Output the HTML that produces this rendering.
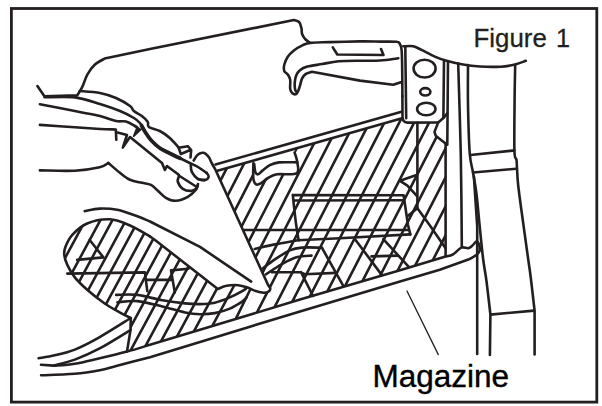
<!DOCTYPE html><html><head><meta charset="utf-8"><style>html,body{margin:0;padding:0;background:#fff}svg{display:block}</style></head><body><svg width="602" height="406" viewBox="0 0 602 406" fill="none" stroke="#231f20" stroke-linecap="round" stroke-linejoin="round">
<defs><clipPath id="hc"><path clip-rule="evenodd" d="M217.5,170.3 L402.0,118.0 L402.5,120.0 L407.4,122.6 L438.2,122.4 L434.5,131.9 L435.7,135.7 L445.6,144.0 L445.6,255.7 L400.0,270.2 L300.0,299.6 L241.5,317.0 L254.8,291.0 L255.7,291.0 L257.4,291.5 L259.1,292.0 L260.8,292.4 L262.4,292.7 L263.8,292.8 L265.0,292.8 L266.1,292.6 L267.0,292.4 L267.8,292.0 L268.5,291.6 L269.1,291.1 L269.6,290.5 L270.0,289.9 L270.2,289.2 L270.3,288.5 L270.1,287.8 L269.6,287.0 L269.0,286.2 L268.5,285.5 L268.1,285.0 L215.0,168.8 Z M253.4,163.3 L253.4,165.6 L253.3,168.9 L253.2,172.6 L253.2,176.2 L253.4,178.9 L253.7,180.8 L254.2,182.1 L254.8,183.2 L255.4,183.9 L256.1,184.4 L256.9,184.7 L257.7,184.7 L258.6,184.4 L259.6,184.0 L260.7,183.4 L262.0,182.6 L263.3,181.5 L264.8,180.2 L266.4,179.0 L268.0,178.0 L269.6,177.1 L271.1,176.3 L272.7,175.5 L274.7,174.8 L277.2,174.3 L280.7,174.1 L285.1,174.2 L289.6,174.4 L293.7,174.2 L296.5,173.4 L297.9,171.8 L298.3,169.7 L298.1,167.2 L297.7,164.7 L297.3,162.4 L296.9,160.2 L296.3,157.9 L295.7,155.7 L295.0,153.8 L294.6,152.5 L294.6,148.9 L253.4,160.6 Z"/></clipPath>
<clipPath id="hb"><path d="M235.9,318.6 L200.0,329.8 L150.0,344.8 L127.0,351.6 L130.5,330.0 L130.8,318.0 L130.8,318.0 L129.3,317.3 L127.3,316.3 L124.9,315.1 L122.3,313.7 L119.6,312.3 L116.9,310.8 L114.0,309.2 L111.0,307.5 L107.9,305.6 L104.7,303.5 L101.3,301.1 L97.6,298.3 L94.0,295.4 L90.4,292.5 L87.2,289.8 L84.3,287.2 L81.6,284.8 L79.2,282.3 L76.9,279.9 L74.8,277.4 L72.9,274.9 L71.2,272.3 L69.7,269.7 L68.4,267.2 L67.3,264.9 L66.3,262.7 L65.6,260.7 L65.0,258.7 L64.6,256.8 L64.3,255.0 L64.1,253.4 L64.1,251.9 L64.3,250.6 L64.7,249.0 L65.3,247.2 L66.2,245.0 L67.3,242.5 L68.6,239.9 L70.3,237.3 L72.3,234.8 L74.7,232.4 L77.3,229.9 L80.3,227.5 L83.6,225.3 L87.2,223.5 L91.2,222.0 L95.7,220.8 L100.5,219.9 L105.2,219.4 L109.6,219.3 L113.7,219.8 L117.8,220.7 L121.7,222.0 L125.6,223.6 L129.6,225.3 L134.0,227.4 L138.7,229.9 L143.3,232.6 L147.2,234.9 L150.0,236.5 L155.0,240.0 L217.8,289.0 L217.8,289.0 L219.0,288.5 L220.5,287.8 L222.4,287.0 L224.5,286.3 L226.6,285.8 L228.8,285.5 L231.2,285.2 L233.7,285.1 L236.1,285.1 L238.3,285.2 L240.3,285.5 L242.3,285.9 L244.1,286.4 L245.9,287.0 L247.6,287.6 L249.3,288.2 L250.9,289.0 Z"/></clipPath></defs>
<g clip-path="url(#hc)"><path d="M187.4,100 L43.4,380 M202.3,100 L58.3,380 M217.2,100 L73.2,380 M232.1,100 L88.1,380 M247.0,100 L103.0,380 M261.9,100 L117.9,380 M276.8,100 L132.8,380 M291.7,100 L147.7,380 M306.6,100 L162.6,380 M321.5,100 L177.5,380 M336.4,100 L192.4,380 M351.3,100 L207.3,380 M366.2,100 L222.2,380 M381.1,100 L237.1,380 M396.0,100 L252.0,380 M410.9,100 L266.9,380 M425.8,100 L281.8,380 M440.7,100 L296.7,380 M455.6,100 L311.6,380 M470.5,100 L326.5,380 M485.4,100 L341.4,380 M500.3,100 L356.3,380 M515.2,100 L371.2,380 M530.1,100 L386.1,380 M545.0,100 L401.0,380" stroke-width="2.6"/></g>
<g clip-path="url(#hb)"><path d="M70.4,200 L-26.9,380 M83.5,200 L-13.8,380 M96.4,200 L-0.9,380 M111.3,200 L14.0,380 M123.3,200 L26.0,380 M136.9,200 L39.6,380 M149.4,200 L52.1,380 M162.3,200 L65.0,380 M174.3,200 L77.0,380 M186.7,200 L89.4,380 M199.3,200 L102.0,380 M211.9,200 L114.6,380 M224.4,200 L127.1,380 M237.4,200 L140.1,380 M250.8,200 L153.5,380 M264.9,200 L167.6,380 M280.4,200 L183.1,380" stroke-width="2.6"/></g>
<path d="M249.9,290.2 L235.9,318.6" stroke-width="2.6" />
<rect x="11.4" y="8.5" width="585.4" height="393.6" stroke-width="2.8" stroke-linejoin="miter"/>
<path d="M37.4,86 L44.4,96.3 L77.3,95.4  C78.1,94.0 80.5,90.6 82.2,87.2 C83.9,83.8 85.1,78.5 87.2,74.8 C89.3,71.1 91.8,67.5 94.7,64.8 C97.6,62.1 103.0,59.6 104.7,58.6 L150,49.1 L293.9,20  C294.8,20.3 297.9,20.7 299.1,22.0 C300.4,23.3 300.9,26.0 301.4,28.0 C301.9,30.0 301.5,32.2 302.1,34.0 C302.7,35.8 303.9,37.6 305.1,39.0 C306.4,40.4 308.9,42.0 309.6,42.6" stroke-width="2.6" />
<path d="M402.4,96.5 C402.4,92.1 402.3,77.8 402.2,70.0 C402.1,62.2 402.0,54.2 401.6,49.9 C401.2,45.6 400.7,45.5 399.9,44.1 C399.1,42.8 399.9,42.2 396.6,41.8 C393.3,41.4 386.1,41.7 380.0,41.6 C373.9,41.5 368.4,41.3 360.0,41.4 C351.6,41.5 338.1,41.9 329.8,42.1 C321.5,42.4 314.9,42.4 310.4,42.9 C305.9,43.4 305.6,43.9 302.9,45.1 C300.1,46.4 296.4,48.4 293.9,50.4 C291.3,52.4 289.2,54.6 287.6,57.0 C286.0,59.4 284.8,62.7 284.2,65.0 C283.6,67.3 283.6,69.4 284.2,71.0 C284.8,72.6 286.9,73.2 287.9,74.7 C288.9,76.2 289.8,77.5 290.2,79.9 C290.6,82.3 289.8,86.7 290.2,88.9 C290.6,91.1 291.4,92.4 292.4,93.3 C293.4,94.2 295.2,94.6 296.2,94.1 C297.2,93.6 297.8,91.8 298.4,90.4 C299.0,89.0 299.3,87.9 299.9,85.9 C300.5,83.9 301.1,80.4 302.1,78.4 C303.1,76.4 304.3,75.0 305.9,73.9 C307.5,72.8 310.9,72.1 311.9,71.7 L360,80.6 L393.3,84.7 L400.8,82.3" stroke-width="2.6" />
<path d="M332.8,47.4 L337.3,54.5 L383.5,55 L381,49" stroke-width="2.6" />
<path d="M398.3,58.2 C395.2,58.6 386.4,60.1 380.0,60.5 C373.6,60.9 366.9,60.6 360.0,60.7 C353.1,60.8 345.1,60.8 338.8,61.3 C332.5,61.8 327.5,63.1 322.3,64.0 C317.1,64.9 311.1,65.6 307.4,66.6 C303.7,67.6 301.8,68.7 299.9,70.2 C298.0,71.7 297.1,73.3 296.2,75.4 C295.3,77.5 294.9,80.5 294.7,82.9 C294.5,85.3 294.8,88.1 295.1,89.6 C295.4,91.1 296.3,91.6 296.5,92.0" stroke-width="2.6" />
<path d="M402.4,96 L402.5,117 Q402.6,122.4 407.4,122.6 L438.2,122.4 L444,117.4 L447.3,113.3" stroke-width="2.6" />
<path d="M405.3,46.5 L406.2,118.3" stroke-width="2.6" />
<path d="M403.3,46.3 C404.9,46.3 410.2,45.7 413.2,46.3 C416.2,46.9 417.9,48.2 421.5,49.9 C425.1,51.6 430.7,54.8 434.8,56.6 C438.9,58.4 441.7,59.4 446.4,60.7 C451.1,62.0 457.5,63.5 463.1,64.5 C468.7,65.5 473.8,66.1 480.0,66.5 C486.2,66.9 494.7,67.0 500.5,66.7 C506.3,66.4 510.8,65.5 515.0,64.5 C519.2,63.5 524.0,61.4 525.8,60.8" stroke-width="2.6" />
<path d="M444,60 L443.4,117.4" stroke-width="2.6" />
<path d="M448,61.3 L447.3,144.8" stroke-width="2.6" />
<ellipse cx="424.6" cy="68.6" rx="11" ry="8.9" stroke-width="2.6"/>
<ellipse cx="425.3" cy="91.8" rx="5.1" ry="3.7" stroke-width="2.6"/>
<ellipse cx="426.3" cy="109" rx="9.2" ry="6.3" stroke-width="2.6"/>
<path d="M438.2,122.4 L434.5,131.9 L435.7,135.7 L446.5,144.3" stroke-width="2.6" />
<path d="M445.6,144.5 L445.6,255.7" stroke-width="2.6" />
<path d="M417.4,122.8 L417.4,208.2" stroke-width="2.6" />
<path d="M400,180.8 L416.6,175 M400,180.8 L407.4,185.7 L416.6,195.7" stroke-width="2.6" />
<path d="M417.4,208.2 L408.3,215.6 M417.4,208.2 L429.9,225.6 L445.6,248.2" stroke-width="2.6" />
<path d="M458.2,63.5 C458.4,69.6 458.9,84.6 459.3,100.0 C459.7,115.4 460.5,139.1 460.8,155.8 C461.1,172.5 461.2,184.9 461.4,200.0 C461.6,215.1 461.7,238.8 461.8,246.6" stroke-width="2.6" />
<path d="M468.0,65.0 C468.0,71.7 467.7,90.3 468.0,105.0 C468.3,119.7 468.9,141.8 469.7,153.0 C470.5,164.2 471.9,165.8 473.0,172.5 C474.1,179.2 475.3,184.2 476.4,193.2 C477.5,202.2 478.6,215.6 479.7,226.4 C480.8,237.2 481.9,248.7 483.0,258.0 C484.1,267.3 485.4,272.6 486.6,282.0 C487.8,291.4 489.8,309.1 490.4,314.5 L489.9,355" stroke-width="2.6" />
<path d="M473.9,176.6 L477.2,226.4 L477.2,354" stroke-width="2.6" />
<path d="M515.2,65.0 C515.1,70.8 514.7,85.7 514.6,100.0 C514.5,114.3 514.1,140.7 514.4,150.7 C514.7,160.7 516.1,157.1 516.5,160.0 C516.9,162.9 516.7,163.8 517.0,168.0 C517.3,172.2 517.2,176.1 518.2,185.3 C519.2,194.5 521.5,210.7 523.2,223.1 C524.9,235.5 527.0,250.8 528.3,260.0 C529.6,269.1 529.8,269.6 530.8,278.0 C531.8,286.4 534.0,305.2 534.6,310.7 L534.6,354.5" stroke-width="2.6" />
<path d="M470.5,155 L514.4,150.4" stroke-width="2.6" />
<path d="M473,172.5 L516,168.8" stroke-width="2.6" />
<path d="M490.4,314.6 L534,310.6" stroke-width="2.6" />
<path d="M53.6,365.8 C57.1,365.5 67.1,365.1 74.8,363.8 C82.5,362.6 91.0,360.3 99.7,358.3 C108.4,356.3 118.7,353.9 127.1,351.6 C135.5,349.4 146.2,345.9 150.0,344.8 L200,329.8 L300,299.6 L400,270.2 L445.6,256.6  C446.9,256.2 450.5,255.8 453.1,254.3 C455.7,252.8 458.9,248.6 461.4,247.6 C463.9,246.6 466.3,248.5 468.1,248.2 C469.9,247.9 470.8,246.8 472.2,245.7 C473.6,244.6 475.3,241.9 476.4,241.6 C477.5,241.3 478.3,242.5 478.9,244.0 C479.4,245.5 480.1,248.9 479.7,250.7 C479.3,252.5 478.1,253.5 476.4,254.9 C474.7,256.3 470.8,258.3 469.7,259.0 L439.8,269.7 L400,281.6 L300,311.4 L200,342 L150,357.3  C144.5,358.7 125.5,363.6 117.1,365.8 C108.7,368.0 106.8,369.0 99.7,370.3 C92.7,371.6 84.6,373.0 74.8,373.8 C65.0,374.6 46.7,375.1 41.1,375.3" stroke-width="2.6" />
<path d="M215.5,164.5 L401.5,111.7" stroke-width="2.6" />
<path d="M217.5,170.8 L402.0,118.3" stroke-width="2.6" />
<path d="M253.4,163.3 C253.4,165.9 252.9,175.4 253.4,178.9 C253.9,182.4 254.9,183.7 256.1,184.4 C257.3,185.2 258.7,184.5 260.7,183.4 C262.7,182.3 265.2,179.5 268.0,178.0 C270.8,176.5 272.4,175.1 277.2,174.3 C281.9,173.5 293.1,175.4 296.5,173.4 C299.9,171.4 297.6,165.9 297.3,162.4 C297.0,158.9 295.1,154.2 294.6,152.5" stroke-width="2.6" />
<path d="M254.2,164.0 C254.4,165.3 254.6,169.9 255.2,171.6 C255.8,173.3 256.8,174.5 258.0,174.3 C259.2,174.1 260.5,172.1 262.5,170.6 C264.5,169.1 267.1,166.6 269.8,165.2 C272.6,163.8 274.4,162.9 279.0,162.4 C283.6,161.9 294.2,162.4 297.3,162.4" stroke-width="2.6" />
<path d="M292.9,195.1 L403.6,195.3 L408,225 L410.3,234.4" stroke-width="2.6" />
<path d="M294.2,200.5 L402.8,200.3" stroke-width="2.6" />
<path d="M292.9,195.1 C293.1,197.0 293.4,201.6 294.0,206.6 C294.6,211.6 295.4,219.4 296.2,225.0 C297.0,230.6 298.2,237.8 298.6,240.4" stroke-width="2.6" />
<path d="M243.7,230 L408.3,230" stroke-width="2.6" />
<path d="M254.7,248.9 C258.1,248.2 267.8,245.8 274.9,244.4 C282.0,243.0 293.6,241.0 297.3,240.3 L335,238.5 L410.3,234.4" stroke-width="2.6" />
<path d="M322,247.9 L343,285.4 M355,239.2 L381.9,275.1 M383.3,239.2 L408.8,266.9" stroke-width="2.6" />
<path d="M371.5,256.4 L398,255.6" stroke-width="2.6" />
<path d="M263.0,268.3 C265.0,266.8 270.4,262.4 274.9,259.4 C279.4,256.4 285.3,252.4 289.8,250.4 C294.3,248.4 296.4,248.1 301.8,247.6 C307.2,247.1 318.6,247.7 322.0,247.7" stroke-width="2.6" />
<path d="M265.9,274.3 C268.6,272.6 277.2,266.8 282.4,263.9 C287.6,261.0 292.4,258.5 297.3,257.1 C302.2,255.7 309.1,255.8 311.5,255.6" stroke-width="2.6" />
<path d="M271.9,272.2 L300.3,272.2 L304.8,274.2 L336,272.9 M301,272.1 L313,296" stroke-width="2.6" />
<path d="M116.2,294.9 C119.7,294.9 129.7,294.0 137.4,294.9 C145.1,295.8 154.4,298.9 162.3,300.3 C170.2,301.7 178.7,302.8 185.0,303.4 C191.3,304.0 194.9,304.2 199.9,304.1 C204.9,304.0 209.8,303.8 214.8,302.7 C219.8,301.6 225.3,299.3 229.8,297.4 C234.3,295.5 239.1,292.9 241.8,291.4 C244.5,289.9 245.5,289.0 246.2,288.5" stroke-width="2.6" />
<path d="M117.4,302.3 C120.7,302.1 129.9,300.4 137.4,301.1 C144.9,301.8 154.4,304.6 162.3,306.5 C170.2,308.4 178.7,311.1 185.0,312.4 C191.3,313.7 194.9,314.1 199.9,314.2 C204.9,314.3 209.8,314.0 214.8,313.1 C219.8,312.2 225.3,310.5 229.8,308.6 C234.3,306.7 239.0,303.7 241.8,301.9 C244.6,300.1 245.7,298.3 246.5,297.6" stroke-width="2.6" />
<path d="M171,270.4 L188.5,268.7 M171,270.4 L174.8,292.4" stroke-width="2.6" />
<path d="M67.3,273.6 L144.9,272.4 L147.3,291.1 M147.3,279.9 L171,279.9" stroke-width="2.6" />
<path d="M89.7,240 L103.4,257.4 L77.2,259.9" stroke-width="2.6" />
<path d="M150.0,236.5 C146.6,234.6 136.3,228.2 129.6,225.3 C122.9,222.4 116.7,219.6 109.6,219.3 C102.5,219.0 93.4,220.9 87.2,223.5 C81.0,226.1 76.0,230.9 72.3,234.8 C68.6,238.8 66.6,243.8 65.3,247.2 C64.0,250.6 64.0,252.1 64.3,255.0 C64.6,257.9 65.5,261.2 67.3,264.9 C69.0,268.6 71.5,273.2 74.8,277.4 C78.1,281.5 82.2,285.4 87.2,289.8 C92.2,294.2 99.3,299.8 104.7,303.5 C110.1,307.2 115.2,309.9 119.6,312.3 C123.9,314.7 128.9,317.1 130.8,318.0 L130.5,330 L127,351.6" stroke-width="2.6" />
<path d="M130.8,318.0 C125.6,321.2 109.0,331.8 99.7,337.1 C90.4,342.4 82.3,346.6 74.8,349.6 C67.3,352.6 60.8,353.9 54.8,355.3 C48.8,356.8 41.3,357.8 38.6,358.3" stroke-width="2.6" />
<path d="M130.5,330.0 C125.4,333.1 109.0,343.5 99.7,348.4 C90.4,353.3 82.5,356.7 74.8,359.6 C67.1,362.5 57.1,364.6 53.6,365.6 L41,364.8" stroke-width="2.6" />
<path d="M84.7,211.1 C87.2,210.7 94.3,208.8 99.7,208.6 C105.1,208.4 111.3,208.7 117.1,209.8 C122.9,210.9 129.1,213.4 134.6,215.3 C140.1,217.2 147.4,220.5 150.0,221.5 L200,246.9 L251.2,281.6" stroke-width="2.6" />
<path d="M150,236.5 L155,240 L217.8,289  C219.3,288.5 223.2,286.4 226.6,285.8 C230.0,285.2 234.8,284.9 238.3,285.2 C241.8,285.5 244.7,286.6 247.6,287.6 C250.5,288.6 253.0,290.1 255.7,291.0 C258.4,291.9 261.7,292.7 263.8,292.8 C265.9,292.9 267.4,292.3 268.5,291.6 C269.6,290.9 270.4,289.6 270.3,288.5 C270.2,287.4 268.5,285.6 268.1,285.0 L215,168.8  C214.4,167.8 212.8,165.0 211.7,163.0 C210.6,161.0 209.9,158.5 208.6,156.8 C207.2,155.1 205.4,153.1 203.6,152.8 C201.8,152.5 199.3,153.5 197.7,154.8 C196.0,156.1 194.4,159.6 193.7,160.5" stroke-width="2.6" />
<path d="M79.7,91.0 C83.1,91.3 94.0,91.8 100.0,93.0 C106.0,94.2 111.0,95.8 116.0,98.0 C121.0,100.2 127.0,103.8 130.0,106.0 C133.0,108.2 131.9,109.3 133.9,111.0 C135.9,112.7 139.6,114.2 141.9,116.0 C144.2,117.8 146.7,120.2 147.8,122.0 C149.0,123.8 146.8,125.5 148.8,127.0 C150.8,128.5 156.3,129.2 159.8,131.0 C163.3,132.8 166.7,135.2 169.8,138.0 C173.0,140.8 177.2,145.9 178.7,147.5" stroke-width="2.6" />
<path d="M178.7,147.8 L187.8,146.2 L191.2,150 L190.5,157.5 M178.7,147.8 L180.8,154 L190.3,150" stroke-width="2.6" />
<path d="M44.6,97.3 C49.7,97.3 65.8,96.3 75.0,97.4 C84.2,98.5 92.5,101.7 100.0,104.0 C107.5,106.3 114.3,108.7 120.0,111.0 C125.7,113.3 130.6,116.0 133.9,118.0 C137.2,120.0 138.4,121.3 139.9,123.0 C141.4,124.7 141.9,126.3 142.9,128.0 C143.9,129.7 144.3,130.8 145.8,133.0 C147.3,135.2 149.4,138.5 151.8,141.0 C154.2,143.5 156.0,145.7 160.0,148.2 C164.0,150.7 170.8,153.5 175.7,156.0 C180.6,158.5 186.0,161.2 189.7,163.0 C193.4,164.8 195.2,165.3 198.0,167.0 C200.8,168.7 205.2,171.9 206.7,172.9" stroke-width="2.6" />
<path d="M141.5,125.5 C142.2,126.8 144.1,130.4 145.8,133.0 C147.5,135.6 149.4,138.5 151.8,141.0 C154.2,143.5 157.0,146.1 160.0,148.2 C163.0,150.3 166.7,151.8 170.0,153.5 C173.3,155.2 178.3,157.5 180.0,158.3" stroke-width="3.8" />
<path d="M39.9,104.2 C45.7,105.3 64.8,109.1 74.8,111.1 C84.8,113.1 93.1,114.3 100.0,116.0 C106.9,117.7 111.7,120.1 116.0,121.0 C120.3,121.9 122.8,120.7 126.0,121.5 C129.2,122.3 132.8,124.8 134.9,126.0 C137.1,127.2 138.2,128.5 138.9,129.0" stroke-width="2.6" />
<path d="M137,127.5 L133.6,136.3 L141.5,129" stroke-width="1.6" fill="#231f20"/>
<path d="M39.9,124.9 C45.7,125.3 64.8,126.6 74.8,127.3 C84.8,128.0 93.2,128.6 100.0,129.0 C106.8,129.4 113.2,129.4 115.8,129.5 L116.3,139.8" stroke-width="2.6" />
<path d="M117.5,132.5 L127,135 L122.8,147.6 L130,137 L162,163 L164.9,170 L166.9,166 L178.8,174.8" stroke-width="2.6" />
<path d="M206.7,172.9 C207.0,173.6 209.0,175.6 208.7,176.8 C208.4,178.0 206.5,179.9 204.7,180.3 C202.9,180.7 199.0,179.2 197.8,179.0" stroke-width="2.6" />
<path d="M190.8,164.9 C191.0,166.1 190.6,169.6 191.8,171.9 C193.0,174.2 195.7,177.5 197.8,178.8 C200.0,180.1 203.5,179.6 204.7,179.8" stroke-width="2.6" />
<path d="M178.8,176.8 C178.6,177.6 177.1,179.8 177.8,181.8 C178.5,183.8 180.5,187.3 182.8,188.8 C185.1,190.3 189.5,191.0 191.8,190.8 C194.1,190.6 195.8,188.9 196.8,187.8 C197.8,186.7 197.8,184.6 198.0,184.0" stroke-width="2.6" />
<path d="M178.8,175.5 L196,186.5" stroke-width="2.6" />
<path d="M39.9,170.4 C45.7,170.4 64.8,171.2 74.8,170.7 C84.8,170.2 94.1,168.6 99.7,167.3 C105.3,166.0 107.0,163.7 108.4,163.0" stroke-width="2.6" />
<path d="M108.4,163.0 C110.3,164.6 116.0,169.7 119.6,172.5 C123.2,175.3 126.3,178.1 130.0,179.8 C133.7,181.5 138.5,182.0 142.0,182.8 C145.5,183.6 148.3,183.5 151.0,184.8 C153.7,186.1 155.4,188.6 157.9,190.8 C160.4,193.0 162.9,196.1 165.9,197.8 C168.9,199.5 172.2,201.0 175.8,200.8 C179.5,200.6 184.5,198.6 187.8,196.8 C191.1,195.0 194.1,191.8 195.8,189.8 C197.5,187.8 197.5,185.6 197.8,184.8" stroke-width="2.6" />
<path d="M407,291 L438.3,354.6" stroke-width="1.3" />
<text x="473.6" y="46.7" font-family="'Liberation Sans',sans-serif" font-size="25.2" fill="#231f20" stroke="#231f20" stroke-width="0.3"><tspan textLength="73.2" lengthAdjust="spacingAndGlyphs">Figure</tspan> <tspan x="556.1">1</tspan></text>
<text x="372.5" y="387" font-family="'Liberation Sans',sans-serif" font-size="31" fill="#000" stroke="#000" stroke-width="0.4" textLength="136.5" lengthAdjust="spacingAndGlyphs">Magazine</text>
</svg></body></html>
